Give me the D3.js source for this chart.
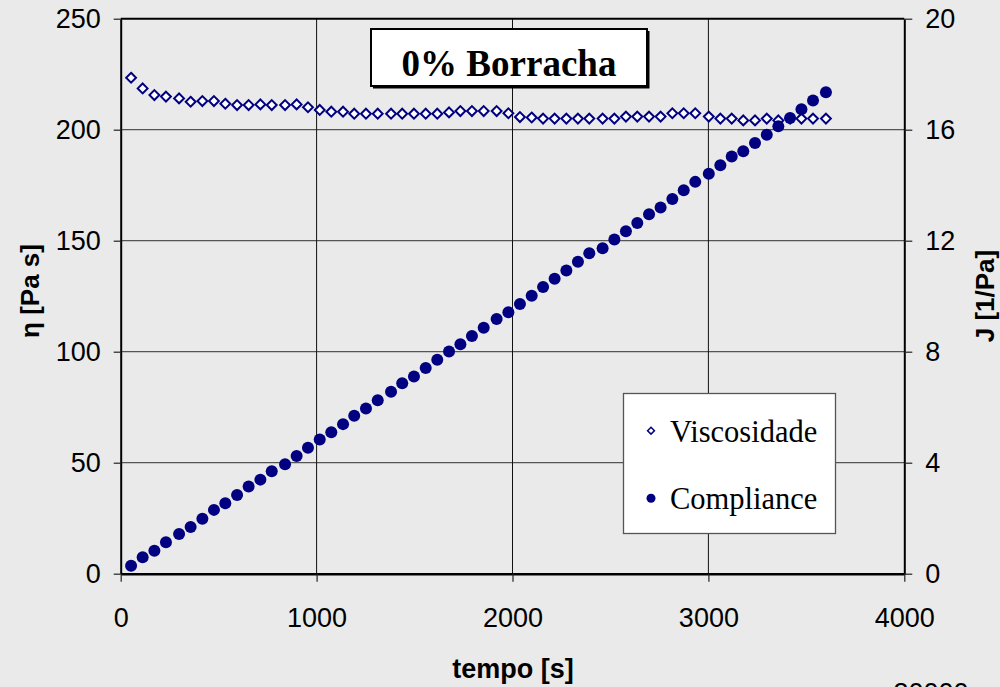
<!DOCTYPE html>
<html>
<head>
<meta charset="utf-8">
<script src="https://d3js.org/d3.v7.min.js"></script>
<style>
  body { margin: 0; background: #eaeaea; }
  svg { display: block; }
</style>
</head>
<body>
<svg></svg>
<script>
/*
*  DATA
*/

// tempo [s]
let tempo = [53, 112, 172, 231, 298, 357, 417, 476, 534, 594,
             653, 713, 771, 839, 898, 956, 1016, 1075, 1135, 1192,
             1252, 1312, 1380, 1437, 1497, 1557, 1616, 1676, 1734, 1793,
             1853, 1919, 1979, 2038, 2098, 2156, 2215, 2275, 2334, 2392,
             2460, 2520, 2579, 2637, 2697, 2756, 2816, 2874, 2933, 3002,
             3061, 3119, 3178, 3238, 3298, 3357, 3417, 3475, 3534, 3600]

// eta [Pa s]
let viscosidade = [223.4, 218.6, 215.6, 214.9, 214.1, 212.6, 212.9, 212.9, 211.7, 211.1,
                   211.1, 211.4, 211.1, 211.1, 211.4, 210.1, 208.9, 208.1, 208.1, 207.2,
                   207.2, 207.2, 207.2, 207.2, 207.2, 207.2, 207.2, 207.8, 208.4, 208.4,
                   208.4, 208.4, 207.4, 205.7, 205.5, 205.0, 205.0, 205.0, 205.0, 205.0,
                   205.0, 205.0, 205.9, 205.9, 205.9, 205.9, 207.4, 207.4, 207.4, 205.9,
                   205.0, 205.0, 204.2, 204.2, 205.0, 204.2, 205.0, 205.0, 205.0, 205.0]

// J [1/Pa]
let compliance = [0.29, 0.59, 0.83, 1.13, 1.43, 1.68, 1.98, 2.30, 2.54, 2.84,
                  3.14, 3.39, 3.69, 3.94, 4.24, 4.54, 4.84, 5.10, 5.39, 5.69,
                  5.95, 6.25, 6.56, 6.86, 7.11, 7.41, 7.71, 8.01, 8.27, 8.57,
                  8.86, 9.18, 9.42, 9.72, 10.02, 10.33, 10.63, 10.93, 11.24, 11.55,
                  11.73, 12.04, 12.34, 12.64, 12.95, 13.20, 13.50, 13.82, 14.12, 14.41,
                  14.72, 15.03, 15.22, 15.52, 15.82, 16.12, 16.42, 16.74, 17.05, 17.35]

let xTicks = [0, 1000, 2000, 3000, 4000]
let leftTicks = [0, 50, 100, 150, 200, 250]
let rightTicks = [0, 4, 8, 12, 16, 20]
let seriesNames = ['Viscosidade', 'Compliance']

/*
*  RUN
*/

let width = 1000,
    height = 687,
    navy = '#000080',
    sans = 'Liberation Sans, Arial, sans-serif',
    serif = 'Liberation Serif, Times New Roman, serif'

let svg = d3.select('svg').attr('width', width).attr('height', height)
svg.append('rect').attr('width', width).attr('height', height).attr('fill', '#eaeaea')

let pLeft = 120.7, pRight = 904.3, pTop = 18.7, pBottom = 573.7

let x = d3.scaleLinear().domain([0, 4000]).range([pLeft, pRight])
let yL = d3.scaleLinear().domain([0, 250]).range([pBottom, pTop])
let yR = d3.scaleLinear().domain([0, 20]).range([pBottom, pTop])

// gridlines
svg.append('g').selectAll('line')
  .data(leftTicks.slice(1, -1))
  .enter().append('line')
  .attr('x1', pLeft).attr('x2', pRight)
  .attr('y1', d => yL(d)).attr('y2', d => yL(d))
  .attr('stroke', '#555').attr('stroke-width', 1.2)

svg.append('g').selectAll('line')
  .data(xTicks.slice(1, -1))
  .enter().append('line')
  .attr('x1', d => x(d)).attr('x2', d => x(d))
  .attr('y1', pTop).attr('y2', pBottom)
  .attr('stroke', '#111').attr('stroke-width', 1)

// top border
svg.append('line').attr('x1', pLeft).attr('x2', pRight).attr('y1', pTop).attr('y2', pTop)
  .attr('stroke', '#000').attr('stroke-width', 2)

// axes
function styleAxis(g){
  g.select('.domain').attr('stroke', '#000').attr('stroke-width', 2)
  g.selectAll('.tick line').attr('stroke', '#222').attr('stroke-width', 1.2)
  g.selectAll('.tick text').attr('font-family', sans).attr('font-size', 27).attr('fill', '#000')
}

let fmt = d3.format('d')

svg.append('g')
  .attr('transform', `translate(${pLeft},0)`)
  .call(d3.axisLeft(yL).tickValues(leftTicks).tickFormat(fmt).tickSize(7).tickSizeOuter(0).tickPadding(13))
  .call(styleAxis)

svg.append('g')
  .attr('transform', `translate(${pRight},0)`)
  .call(d3.axisRight(yR).tickValues(rightTicks).tickFormat(fmt).tickSize(8).tickSizeOuter(0).tickPadding(13))
  .call(styleAxis)

svg.append('g')
  .attr('transform', `translate(0,${pBottom})`)
  .call(d3.axisBottom(x).tickValues(xTicks).tickFormat(fmt).tickSize(8).tickSizeOuter(0).tickPadding(26))
  .call(styleAxis)
  .call(g => g.select('.domain').attr('stroke-width', 2.5))

// axis titles
svg.append('text').text('η [Pa s]')
  .attr('transform', 'translate(39,291) rotate(-90)')
  .attr('text-anchor', 'middle')
  .attr('font-family', sans).attr('font-weight', 'bold').attr('font-size', 26)

svg.append('text').text('J [1/Pa]')
  .attr('transform', 'translate(994,296) rotate(-90)')
  .attr('text-anchor', 'middle')
  .attr('font-family', sans).attr('font-weight', 'bold').attr('font-size', 26)

svg.append('text').text('tempo [s]')
  .attr('x', 513).attr('y', 678)
  .attr('text-anchor', 'middle')
  .attr('font-family', sans).attr('font-weight', 'bold').attr('font-size', 27)

// stray label clipped at the bottom edge, as in the original
svg.append('text').text('30000')
  .attr('x', 931).attr('y', 702)
  .attr('text-anchor', 'middle')
  .attr('font-family', sans).attr('font-size', 27)

// series
let diamond = d3.symbol().type(d3.symbolDiamond2).size(62)

svg.append('g').selectAll('path')
  .data(tempo.map((t, i) => [t, viscosidade[i]]))
  .enter().append('path')
  .attr('d', diamond)
  .attr('transform', d => `translate(${x(d[0])},${yL(d[1])})`)
  .attr('fill', '#fff').attr('stroke', navy).attr('stroke-width', 2)

svg.append('g').selectAll('circle')
  .data(tempo.map((t, i) => [t, compliance[i]]))
  .enter().append('circle')
  .attr('cx', d => x(d[0])).attr('cy', d => yR(d[1]))
  .attr('r', 6).attr('fill', navy)

// title box
let tb = svg.append('g')
tb.append('rect').attr('x', 373).attr('y', 31).attr('width', 276.5).attr('height', 57.5).attr('fill', '#000')
tb.append('rect').attr('x', 371).attr('y', 29).attr('width', 276).attr('height', 57)
  .attr('fill', '#fff').attr('stroke', '#000').attr('stroke-width', 2)
tb.append('text').text('0% Borracha')
  .attr('x', 509).attr('y', 76)
  .attr('text-anchor', 'middle')
  .attr('font-family', serif).attr('font-weight', 'bold').attr('font-size', 37)

// legend
let lg = svg.append('g')
lg.append('rect').attr('x', 623.5).attr('y', 393.5).attr('width', 212).attr('height', 140)
  .attr('fill', '#fff').attr('stroke', '#555').attr('stroke-width', 1.3)

let rows = lg.selectAll('g.row')
  .data(seriesNames)
  .enter().append('g').attr('class', 'row')
  .attr('transform', (d, i) => `translate(651,${430.7 + i * 67.6})`)

rows.filter((d, i) => i === 0).append('path')
  .attr('d', d3.symbol().type(d3.symbolDiamond2).size(30))
  .attr('fill', '#fff').attr('stroke', navy).attr('stroke-width', 1.5)
rows.filter((d, i) => i === 1).append('circle')
  .attr('r', 4.5).attr('fill', navy)
rows.append('text').text(d => d)
  .attr('x', 19).attr('y', 11)
  .attr('font-family', serif).attr('font-size', 30.5)
</script>
</body>
</html>
